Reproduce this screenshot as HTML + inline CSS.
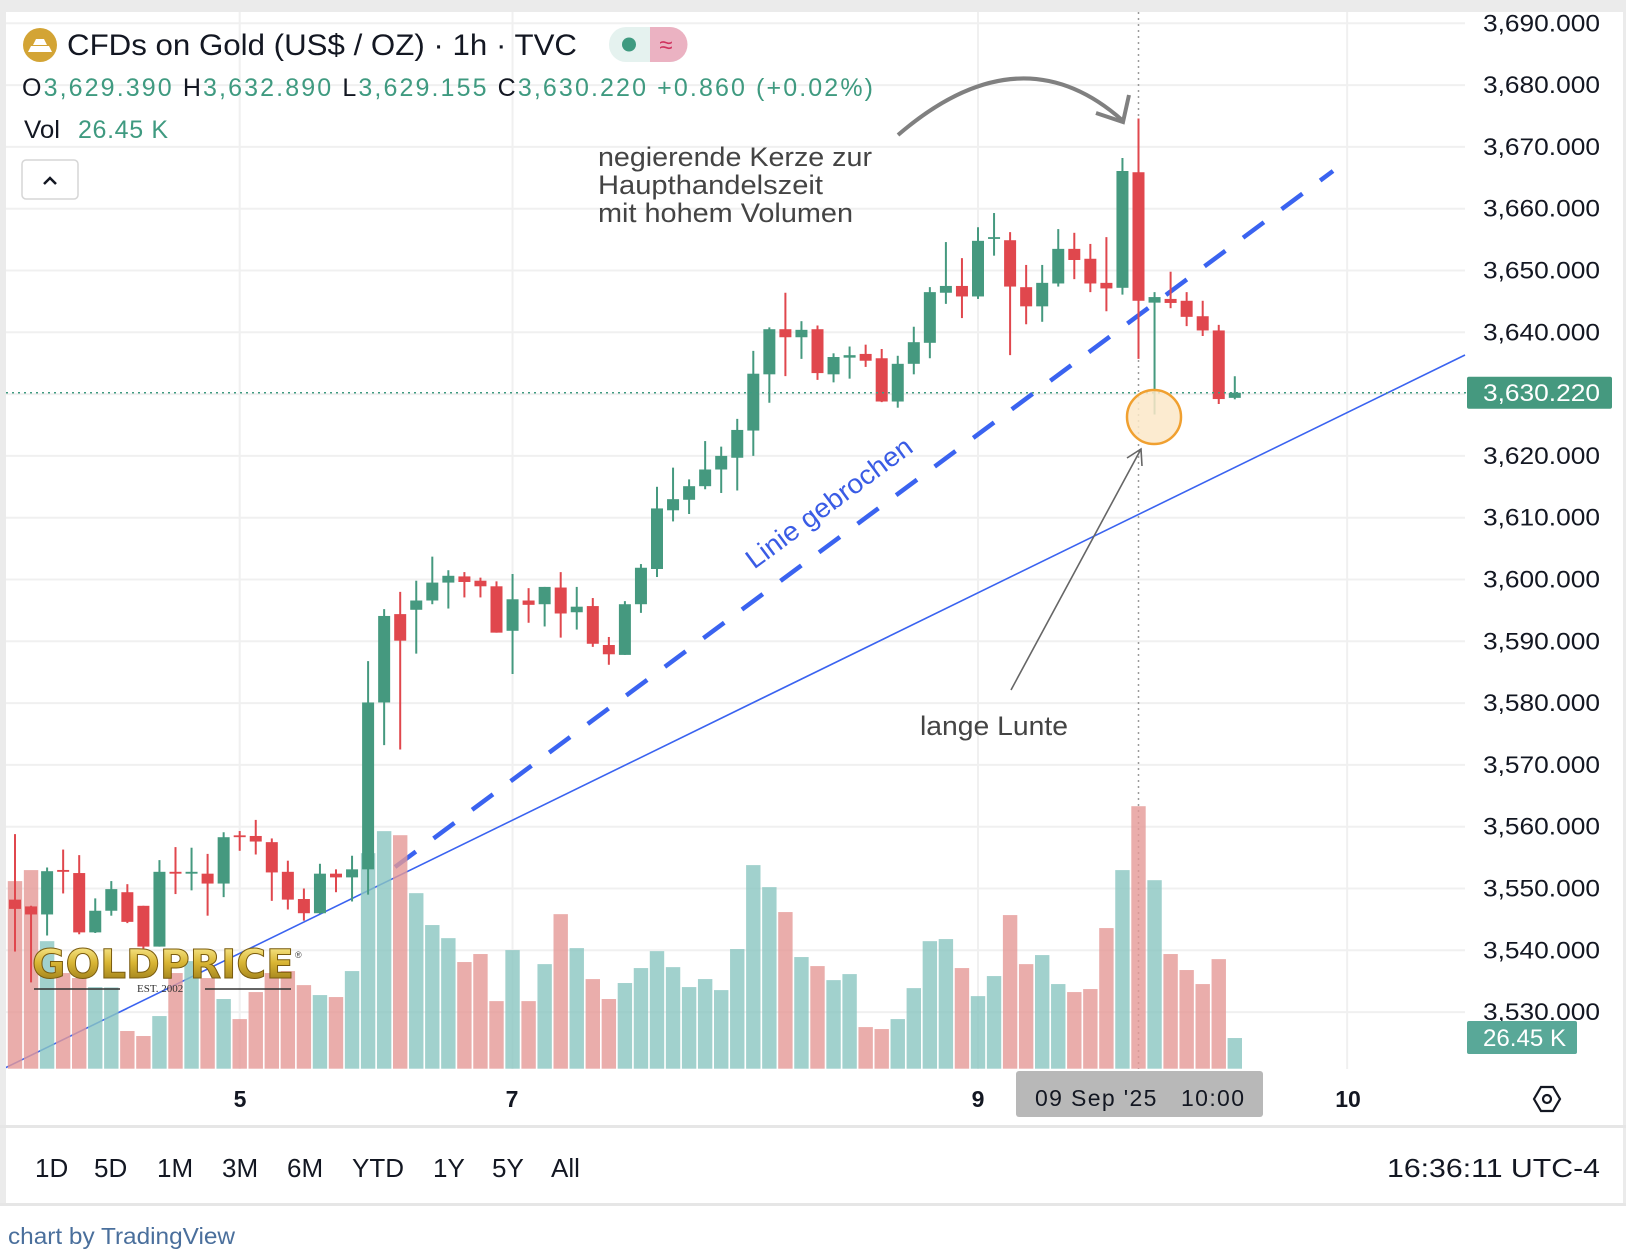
<!DOCTYPE html>
<html><head><meta charset="utf-8"><style>
html,body{margin:0;padding:0;background:#fff;}
svg{display:block;font-family:"Liberation Sans",sans-serif;}
</style></head><body>
<svg id="chart" width="1626" height="1258" viewBox="0 0 1626 1258" xmlns="http://www.w3.org/2000/svg">
<defs>
<linearGradient id="gold" x1="0" y1="0" x2="0" y2="1"><stop offset="0" stop-color="#fff3a0"/><stop offset="0.45" stop-color="#d9b534"/><stop offset="1" stop-color="#8a6d12"/></linearGradient>
<clipPath id="plotclip"><rect x="6" y="12" width="1460" height="1057"/></clipPath>
</defs>
<rect x="0" y="0" width="1626" height="1258" fill="#fff"/>
<rect x="0" y="0" width="1626" height="12" fill="#ebebeb"/>
<rect x="0" y="0" width="6" height="1206" fill="#ebebeb"/>
<rect x="1623" y="0" width="3" height="1206" fill="#ebebeb"/>
<g id="grid"></g>
<line x1="1138.5" y1="12" x2="1138.5" y2="1069" stroke="#9a9a9a" stroke-width="1.5" stroke-dasharray="2 4"/>
<g id="lines" clip-path="url(#plotclip)">
 <line x1="5" y1="1068" x2="1465" y2="355" stroke="#3a63f0" stroke-width="1.6"/>
 <line x1="395" y1="867" x2="1333" y2="171" stroke="#3a63f0" stroke-width="4.5" stroke-dasharray="26 22"/>
</g>
<g id="vol" clip-path="url(#plotclip)"></g>
<g id="candles" clip-path="url(#plotclip)"></g>
<line id="lastline" x1="6" x2="1466" stroke="#3f9a80" stroke-width="1.5" stroke-dasharray="2 4"/>
<g id="yaxis" font-size="24" fill="#131722"></g>
<rect id="lastbox" x="1467" width="145" height="32" rx="2" fill="#45997f"/>
<text id="lasttext" x="1483" font-size="24" fill="#fff" textLength="117" lengthAdjust="spacingAndGlyphs">3,630.220</text>
<rect x="1467" y="1021" width="110" height="33" rx="2" fill="#59a898"/>
<text x="1483" y="1046" font-size="24" fill="#fff" textLength="83" lengthAdjust="spacingAndGlyphs">26.45 K</text>
<circle cx="1154" cy="417" r="27" fill="#fbe8c8" fill-opacity="0.85" stroke="#f0a030" stroke-width="2.5"/>
<g fill="#444" font-size="27">
 <text x="598" y="166" textLength="274" lengthAdjust="spacingAndGlyphs">negierende Kerze zur</text>
 <text x="598" y="194" textLength="225" lengthAdjust="spacingAndGlyphs">Haupthandelszeit</text>
 <text x="598" y="222" textLength="255" lengthAdjust="spacingAndGlyphs">mit hohem Volumen</text>
</g>
<path d="M898 135 Q1020 30 1122 120" fill="none" stroke="#808080" stroke-width="4"/>
<path d="M1096 113 L1123 122 L1129 95" fill="none" stroke="#808080" stroke-width="4"/>
<text x="920" y="735" font-size="27" fill="#444" textLength="148" lengthAdjust="spacingAndGlyphs">lange Lunte</text>
<line x1="1011" y1="690" x2="1141" y2="449" stroke="#666" stroke-width="1.6"/>
<path d="M1127 458 L1141 449 L1142 466" fill="none" stroke="#666" stroke-width="1.6"/>
<text transform="translate(838,515) rotate(-36.6)" text-anchor="middle" font-size="27" fill="#3a5ce5" dy="-6" textLength="200" lengthAdjust="spacingAndGlyphs">Linie gebrochen</text>
<g>
 <text x="32" y="978" font-size="40" font-weight="bold" font-family="'DejaVu Sans',sans-serif" fill="url(#gold)" stroke="#7a5c10" stroke-width="1" textLength="262" lengthAdjust="spacingAndGlyphs">GOLDPRICE</text>
 <text x="295" y="958" font-size="9" fill="#444">®</text>
 <line x1="34" y1="989" x2="120" y2="989" stroke="#333" stroke-width="1.5"/>
 <line x1="205" y1="989" x2="291" y2="989" stroke="#333" stroke-width="1.5"/>
 <text x="137" y="992" font-size="11" font-family="'Liberation Serif',serif" fill="#333">EST. 2002</text>
</g>
<circle cx="40" cy="45" r="17" fill="#d3a435"/>
<path d="M28 52 h24 l-3 -6 h-18 z M33 45 h14 l-3 -6 h-8 z" fill="#fff"/>
<text x="67" y="55" font-size="30" fill="#131722" textLength="510" lengthAdjust="spacingAndGlyphs">CFDs on Gold (US$ / OZ) · 1h · TVC</text>
<g>
 <rect x="609" y="27" width="78" height="35" rx="17" fill="#e5f2ef"/>
 <path d="M650 27 h20 a17 17 0 0 1 0 35 h-20 z" fill="#ebb2c2"/>
 <circle cx="629" cy="44.5" r="7" fill="#3f9a80"/>
 <text x="666" y="53" font-size="24" fill="#d0325e" text-anchor="middle">≈</text>
</g>
<text x="22" y="96" font-size="25" fill="#3f9a80" textLength="851" lengthAdjust="spacing"><tspan fill="#131722">O</tspan>3,629.390 <tspan fill="#131722">H</tspan>3,632.890 <tspan fill="#131722">L</tspan>3,629.155 <tspan fill="#131722">C</tspan>3,630.220 +0.860 (+0.02%)</text>
<text x="24" y="138" font-size="25" fill="#131722" textLength="36" lengthAdjust="spacingAndGlyphs">Vol</text>
<text x="78" y="138" font-size="25" fill="#3f9a80" textLength="90" lengthAdjust="spacing">26.45 K</text>
<g>
 <rect x="22" y="160" width="56" height="39" rx="4" fill="#fff" stroke="#d6d6d6" stroke-width="1.5"/>
 <path d="M44 184 l6 -6 l6 6" fill="none" stroke="#131722" stroke-width="2.5"/>
</g>
<g font-size="23" font-weight="bold" fill="#131722" text-anchor="middle">
 <text x="240" y="1107">5</text>
 <text x="512" y="1107">7</text>
 <text x="978" y="1107">9</text>
 <text x="1348" y="1107">10</text>
</g>
<rect x="1016" y="1071" width="247" height="46" rx="3" fill="#b8b8b8"/>
<text x="1035" y="1106" font-size="23" fill="#131722" xml:space="preserve" textLength="209" lengthAdjust="spacing">09 Sep '25   10:00</text>
<g>
 <path d="M1534 1099 l7 -12 h12 l7 12 l-7 12 h-12 z" fill="none" stroke="#131722" stroke-width="2.2"/>
 <circle cx="1547" cy="1099" r="4" fill="none" stroke="#131722" stroke-width="2.2"/>
</g>
<rect x="0" y="1125" width="1626" height="3" fill="#e6e6e6"/>
<g font-size="26" fill="#131722">
 <text x="35" y="1177">1D</text>
 <text x="94" y="1177">5D</text>
 <text x="157" y="1177">1M</text>
 <text x="222" y="1177">3M</text>
 <text x="287" y="1177">6M</text>
 <text x="352" y="1177">YTD</text>
 <text x="433" y="1177">1Y</text>
 <text x="492" y="1177">5Y</text>
 <text x="551" y="1177">All</text>
</g>
<text x="1387" y="1177" font-size="26" fill="#131722" textLength="213" lengthAdjust="spacingAndGlyphs">16:36:11 UTC-4</text>
<rect x="0" y="1203" width="1626" height="3" fill="#e6e6e6"/>
<text x="8" y="1244" font-size="23" fill="#4a6f9c" textLength="227" lengthAdjust="spacingAndGlyphs">chart by TradingView</text>
</svg>
<script>
const opens=[3548.2,3547.1,3545.8,3553.0,3552.5,3542.9,3546.4,3549.4,3547.2,3540.6,3552.7,3552.4,3552.4,3550.8,3558.6,3558.5,3557.5,3552.7,3548.3,3546.0,3552.4,3551.8,3553.1,3580.1,3594.4,3595.1,3596.6,3599.5,3600.5,3599.8,3598.9,3591.7,3596.6,3596.0,3598.7,3594.7,3595.7,3589.4,3587.8,3596.0,3601.7,3611.2,3612.9,3615.1,3617.8,3619.7,3624.1,3633.2,3640.5,3639.2,3640.5,3633.2,3635.9,3636.5,3635.8,3628.8,3634.9,3638.3,3646.4,3647.5,3645.8,3655.2,3654.9,3647.3,3644.2,3647.9,3653.5,3651.9,3648.0,3647.2,3665.9,3644.8,3645.4,3645.1,3642.6,3640.3,3629.39];
const highs=[3558.8,3547.2,3553.4,3556.3,3555.4,3548.4,3551.2,3550.7,3547.2,3554.6,3556.7,3556.6,3555.6,3559.1,3559.3,3561.1,3558.1,3554.5,3550.0,3554.0,3553.1,3555.3,3586.8,3595.2,3598.0,3599.8,3603.7,3601.5,3601.2,3600.3,3599.7,3600.9,3598.6,3598.8,3601.2,3598.8,3597.0,3590.7,3596.5,3602.5,3615.0,3618.1,3616.2,3622.4,3621.5,3626.0,3637.0,3640.8,3646.4,3641.8,3641.1,3636.6,3637.7,3638.0,3637.3,3636.2,3640.9,3647.3,3654.6,3652.0,3657.0,3659.3,3656.2,3650.9,3650.9,3656.7,3656.1,3654.3,3655.4,3668.2,3674.6,3646.5,3649.8,3646.5,3645.1,3641.2,3632.89];
const lows=[3539.8,3534.8,3542.4,3549.2,3542.6,3542.8,3545.6,3544.4,3540.3,3540.6,3549.1,3549.7,3545.6,3548.6,3556.1,3555.5,3548.0,3546.6,3544.8,3545.9,3549.4,3547.9,3549.0,3573.2,3572.5,3588.0,3596.0,3595.3,3597.1,3597.1,3591.4,3584.7,3593.0,3592.4,3590.6,3591.9,3589.1,3586.2,3587.8,3594.6,3600.4,3609.4,3610.6,3614.6,3614.0,3614.4,3620.0,3628.6,3632.9,3635.7,3632.3,3631.9,3632.5,3634.4,3628.7,3627.8,3633.2,3635.8,3644.6,3642.3,3645.4,3652.4,3636.3,3641.3,3641.7,3647.4,3648.6,3646.5,3643.4,3646.1,3635.7,3626.7,3643.9,3641.0,3639.4,3628.4,3629.155];
const closes=[3546.7,3545.8,3552.8,3552.7,3542.9,3546.4,3549.9,3544.6,3540.6,3552.7,3552.4,3552.7,3550.8,3558.3,3558.4,3557.6,3552.6,3548.2,3546.0,3552.4,3551.8,3553.1,3580.1,3594.1,3590.1,3596.6,3599.5,3600.6,3599.6,3598.9,3591.4,3596.8,3595.9,3598.8,3594.5,3595.6,3589.6,3587.9,3596.0,3601.9,3611.5,3613.0,3615.1,3617.8,3620.0,3624.2,3633.3,3640.5,3639.2,3640.4,3633.4,3636.0,3636.3,3635.4,3628.8,3634.9,3638.4,3646.5,3647.5,3645.8,3654.8,3655.4,3647.4,3644.2,3648.0,3653.5,3651.7,3647.9,3647.1,3666.1,3645.1,3645.7,3644.75,3642.5,3640.3,3629.2,3630.22];
const volumes=[161.8,171.3,110,82.5,78.2,70.4,70.1,32.5,28.2,45.4,82.5,92.8,78.2,60.1,42.8,66.1,82.5,84.2,72.1,63.5,61.8,84.2,185.9,204.9,201.4,151.4,123.9,112.6,92,98.9,58.3,102.3,58.3,90.2,133.3,104,77.3,60.1,73.9,86.8,101.4,87.6,70.4,77.3,67.8,103.2,175.6,156.6,135.1,96.3,88.5,76.4,81.6,35.9,34.2,42.8,69.5,110,111.8,86.8,62.6,79.9,132.5,90.2,98,73,66.1,68.7,121.3,171.3,226.4,162.6,98.9,85.1,73,94.5,26.45];
const priceTicks=[3690,3680,3670,3660,3650,3640,3630,3620,3610,3600,3590,3580,3570,3560,3550,3540,3530];
const timeGridIdx=[14,31,60,83];
const lastPrice=3630.22;

const NS='http://www.w3.org/2000/svg';
function xs(i){return 15+16.05*i;}
function ys(p){return 23.3+(3690-p)*6.18;}
function yv(v){return 1068.7-v*1.1594;}
function mk(tag,attrs,parent){const e=document.createElementNS(NS,tag);for(const k in attrs)e.setAttribute(k,attrs[k]);parent.appendChild(e);return e;}
const grid=document.getElementById('grid');
priceTicks.forEach(function(p){
  const l=mk('line',{x1:6,x2:1465,y1:ys(p),y2:ys(p),stroke:'#f0f0f0','stroke-width':2},grid);
  
  
});
timeGridIdx.forEach(function(i){
  const l=mk('line',{x1:xs(i),x2:xs(i),y1:12,y2:1069,stroke:'#f0f0f0','stroke-width':2},grid);
  
  
});
const yaxis=document.getElementById('yaxis');
priceTicks.forEach(function(p){
  const t=mk('text',{x:1483,y:ys(p)+8,textLength:117,lengthAdjust:'spacingAndGlyphs'},yaxis);
  t.textContent=p.toLocaleString('en-US',{minimumFractionDigits:3});
  
  
});
const vol=document.getElementById('vol');
volumes.forEach(function(v,i){
  const up=closes[i]>=opens[i];
  const r=mk('rect',{x:xs(i)-7.2,y:yv(v),width:14.4,height:1068.7-yv(v),fill:up?'#8ac6c0':'#e59896','fill-opacity':0.8},vol);
  
  
});
const cg=document.getElementById('candles');
opens.forEach(function(o,i){
  const c=closes[i],up=c>=o,col=up?'#45997f':'#e0474d';
  const g=mk('g',{},cg);
  
  
  mk('line',{x1:xs(i),x2:xs(i),y1:ys(highs[i]),y2:ys(lows[i]),stroke:col,'stroke-width':2},g);
  const top=ys(Math.max(o,c)),bot=ys(Math.min(o,c));
  mk('rect',{x:xs(i)-6,y:top,width:12,height:Math.max(bot-top,1.8),fill:col},g);
});
const ly=ys(lastPrice);
const ll=document.getElementById('lastline');ll.setAttribute('y1',ly);ll.setAttribute('y2',ly);
document.getElementById('lastbox').setAttribute('y',ly-16);
document.getElementById('lasttext').setAttribute('y',ly+8.5);
</script>
</body></html>
